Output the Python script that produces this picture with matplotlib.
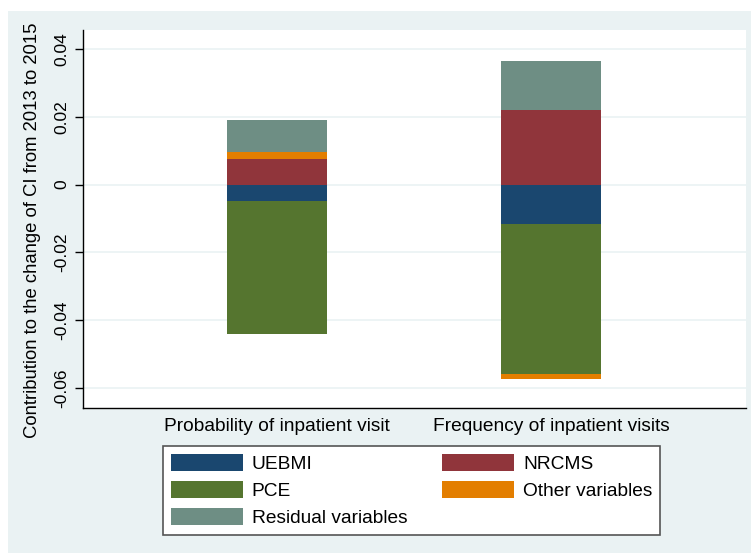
import numpy as np
import matplotlib.pyplot as plt
from matplotlib.patches import Patch, Rectangle

plt.rcParams['font.family'] = ['Liberation Sans', 'DejaVu Sans']

# decomposition of the change in CI, 2013 -> 2015
outcomes = ['Probability of inpatient visit', 'Frequency of inpatient visits']
components = ['UEBMI', 'NRCMS', 'PCE', 'Other variables', 'Residual variables']
uebmi = [-0.0047, -0.0115]
nrcms = [0.0076, 0.0221]
pce = [-0.0394, -0.0444]
other = [0.0021, -0.0015]
residual = [0.0093, 0.0144]
colors = ['#1a476f', '#90353b', '#55752f', '#e37e00', '#6e8e84']

yticks = [-0.06, -0.04, -0.02, 0, 0.02, 0.04]
yticklabels = ['-0.06', '-0.04', '-0.02', '0', '0.02', '0.04']

W, H = 751, 553
fig = plt.figure(figsize=(W / 100, H / 100), dpi=100)
fig.patch.set_facecolor('white')
bg = '#eaf2f3'
fig.patches.append(Rectangle((8 / W, 0), 1 - 8 / W, 1 - 11 / H,
                             transform=fig.transFigure, facecolor=bg,
                             edgecolor='none', zorder=-10))

ax = fig.add_axes([83 / W, 1 - 408 / H, (746 - 83) / W, (408 - 30) / H])
ax.set_facecolor('white')

x = np.arange(len(outcomes))
series = [uebmi, nrcms, pce, other, residual]
pos_base = np.zeros(len(outcomes))
neg_base = np.zeros(len(outcomes))
for vals, col, name in zip(series, colors, components):
    vals = np.array(vals)
    base = np.where(vals >= 0, pos_base, neg_base)
    ax.bar(x, vals, width=0.365, bottom=base, color=col, label=name, zorder=3)
    pos_base += np.where(vals >= 0, vals, 0)
    neg_base += np.where(vals < 0, vals, 0)

ax.set_xlim(-0.708, 1.712)
ax.set_ylim(-0.0659, 0.0456)
ax.set_yticks(yticks)
ax.set_yticklabels(yticklabels, rotation=90, va='center', fontsize=12.5)
ax.set_xticks(x)
ax.set_xticklabels(outcomes, fontsize=13.8)
ax.tick_params(axis='x', length=0, pad=7)
ax.tick_params(axis='y', length=6, width=1, pad=4)
ax.grid(axis='y', color=bg, linewidth=1.2, zorder=0)
for s in ['top', 'right']:
    ax.spines[s].set_visible(False)
for s in ['left', 'bottom']:
    ax.spines[s].set_linewidth(1.0)
    ax.spines[s].set_color('black')

fig.text(33 / W, 1 - 230 / H, 'Contribution to the change of CI from 2013 to 2015',
         rotation=90, ha='center', va='center', fontsize=13.3)

handles = [Patch(facecolor=c, edgecolor='none') for c in colors]
order = [0, 2, 4, 1, 3]
leg = fig.legend([handles[i] for i in order], [components[i] for i in order],
                 ncol=2, loc='upper left',
                 bbox_to_anchor=(163 / W, 1 - 446 / H),
                 borderaxespad=0, fancybox=False,
                 framealpha=1, edgecolor='#555555', fontsize=13.8,
                 handlelength=3.75, handleheight=1.04, handletextpad=0.47,
                 labelspacing=0.4, borderpad=0.4, columnspacing=1.82)
leg.get_frame().set_linewidth(1.2)

fig.savefig('out.png', dpi=100)
